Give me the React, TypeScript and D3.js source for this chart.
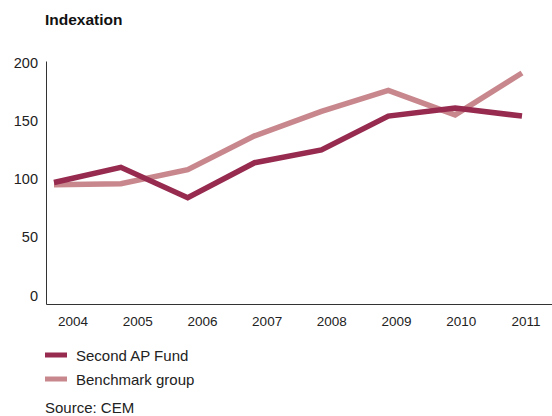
import React from "react";
import * as d3 from "d3";

const years = [2004, 2005, 2006, 2007, 2008, 2009, 2010, 2011];
const secondAPFund = [97, 110, 84, 114, 125, 154, 161, 154];
const benchmarkGroup = [95, 96, 108, 137, 158, 176, 155, 191];
const yTicks = [0, 50, 100, 150, 200];
const seriesNames = ["Second AP Fund", "Benchmark group"];
const seriesColors = ["#962a4f", "#c8878d"];

export default function App() {
  const W = 552, H = 416;
  const x = d3.scaleLinear().domain([2004, 2011]).range([54, 522]);
  const xLabel = d3.scaleLinear().domain([2004, 2011]).range([73, 526]);
  const y = d3.scaleLinear().domain([0, 200]).range([295.5, 62.5]);
  const line = d3
    .line<number>()
    .x((_, i) => x(years[i]))
    .y((d) => y(d));
  const series = [secondAPFund, benchmarkGroup];
  const font = "'Liberation Sans', Arial, sans-serif";
  return (
    <svg
      width={W}
      height={H}
      style={{ position: "absolute", left: 0, top: 0 }}
      fontFamily={font}
    >
      <text x={45} y={25} fontSize={15.5} fontWeight="bold" fill="#111">
        Indexation
      </text>
      {yTicks.map((t) => (
        <text
          key={t}
          x={38}
          y={y(t)}
          dy="0.35em"
          textAnchor="end"
          fontSize={14.5}
          fill="#222"
        >
          {t}
        </text>
      ))}
      {years.map((yr) => (
        <text
          key={yr}
          x={xLabel(yr)}
          y={326}
          textAnchor="middle"
          fontSize={13.5}
          fill="#222"
        >
          {yr}
        </text>
      ))}
      <path
        d={`M46.5,61.5V304.5H552`}
        fill="none"
        stroke="#333"
        strokeWidth={1}
      />
      {[1, 0].map((si) => (
        <path
          key={si}
          d={line(series[si]) || ""}
          fill="none"
          stroke={seriesColors[si]}
          strokeWidth={5.5}
          strokeLinejoin="miter"
        />
      ))}
      {seriesNames.map((n, i) => (
        <g key={n}>
          <line
            x1={45}
            x2={67}
            y1={355 + i * 24}
            y2={355 + i * 24}
            stroke={seriesColors[i]}
            strokeWidth={5}
          />
          <text x={76} y={360.5 + i * 24} fontSize={15} fill="#222">
            {n}
          </text>
        </g>
      ))}
      <text x={45} y={413} fontSize={15} fill="#222">
        Source: CEM
      </text>
    </svg>
  );
}
